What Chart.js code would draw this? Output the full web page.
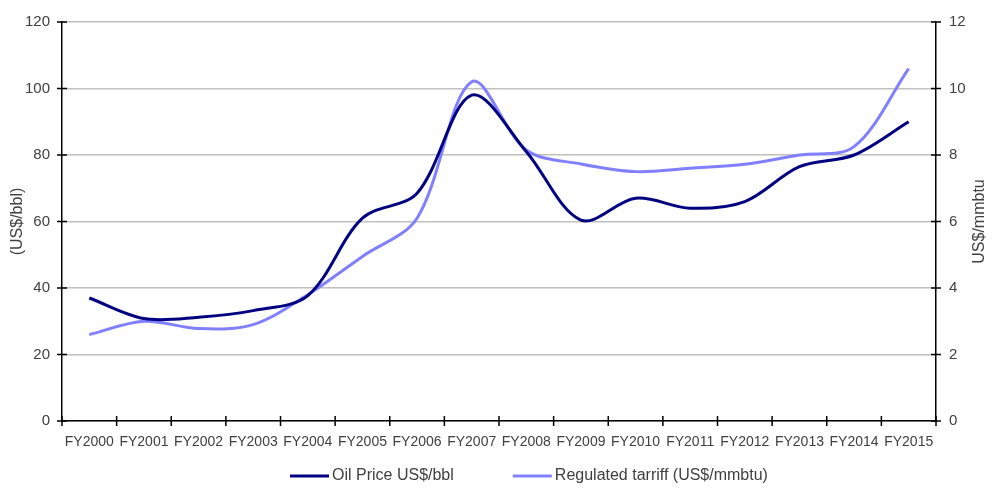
<!DOCTYPE html>
<html>
<head>
<meta charset="utf-8">
<script src="https://cdn.jsdelivr.net/npm/chart.js@4.4.1/dist/chart.umd.min.js"></script>
<style>
  html, body { margin: 0; padding: 0; background: #fff; }
  #wrap { width: 998px; height: 488px; position: relative; }
</style>
</head>
<body>
<div id="wrap"><canvas id="chart"></canvas></div>
<script>
// Fiscal years on the category axis
const years = ['FY2000', 'FY2001', 'FY2002', 'FY2003', 'FY2004', 'FY2005', 'FY2006', 'FY2007',
               'FY2008', 'FY2009', 'FY2010', 'FY2011', 'FY2012', 'FY2013', 'FY2014', 'FY2015'];

// Oil price, US$/bbl (left axis)
const oilPrice = [37, 30.8, 31.2, 33.2, 37.7, 61, 68.5, 98, 81, 60.4, 67, 64, 66, 76.5, 80, 90];

// Regulated gas tariff, US$/mmbtu (right axis)
const tariff = [2.6, 3.0, 2.78, 2.9, 3.8, 4.95, 6.1, 10.2, 8.15, 7.73, 7.5, 7.6, 7.72, 8.0, 8.25, 10.6];

const oilLabel = 'Oil Price US$/bbl';
const tariffLabel = 'Regulated tarriff (US$/mmbtu)';
const rightTitle = 'US$/mmbtu';

const FONT = "'Liberation Sans', Arial, sans-serif";
const TEXT = '#404040';

// tick marks that cross the axis lines (both sides)
const crossTicks = {
    id: 'crossTicks',
    beforeDatasetsDraw(chart) {
        const { ctx, chartArea, scales } = chart;
        const half = 5;
        ctx.save();
        ctx.strokeStyle = '#000';
        ctx.lineWidth = 1.5;
        ctx.beginPath();
        const step = scales.x.width / years.length;
        for (let i = 0; i <= years.length; i++) {
            const px = scales.x.left + i * step;
            ctx.moveTo(px, chartArea.bottom - half);
            ctx.lineTo(px, chartArea.bottom + half);
        }
        scales.y.ticks.forEach(t => {
            const py = scales.y.getPixelForValue(t.value);
            ctx.moveTo(chartArea.left - half, py);
            ctx.lineTo(chartArea.left + half, py);
        });
        scales.y1.ticks.forEach(t => {
            const py = scales.y1.getPixelForValue(t.value);
            ctx.moveTo(chartArea.right - half, py);
            ctx.lineTo(chartArea.right + half, py);
        });
        ctx.stroke();

        // right axis title, reading bottom to top
        ctx.fillStyle = TEXT;
        ctx.font = '16px ' + FONT;
        ctx.textAlign = 'center';
        ctx.textBaseline = 'middle';
        ctx.translate(chart.width - 18, (chartArea.top + chartArea.bottom) / 2);
        ctx.rotate(-Math.PI / 2);
        ctx.fillText(rightTitle, 0, 0);
        ctx.restore();
    }
};

// legend along the bottom edge
const bottomLegend = {
    id: 'bottomLegend',
    afterDraw(chart) {
        const { ctx } = chart;
        const sample = 39, gap = 3, between = 59, y = 476;
        ctx.save();
        ctx.font = '16px ' + FONT;
        let x = 290;
        chart.data.datasets.forEach(ds => {
            ctx.strokeStyle = ds.borderColor;
            ctx.lineWidth = 3;
            ctx.beginPath();
            ctx.moveTo(x, y);
            ctx.lineTo(x + sample, y);
            ctx.stroke();
            ctx.fillStyle = TEXT;
            ctx.textBaseline = 'middle';
            ctx.fillText(ds.label, x + sample + gap, y);
            x += sample + gap + ctx.measureText(ds.label).width + between;
        });
        ctx.restore();
    }
};

const ctx = document.getElementById('chart').getContext('2d');
const myChart = new Chart(ctx, {
    type: 'line',
    data: {
        labels: years,
        datasets: [
            {
                label: oilLabel,
                data: oilPrice,
                yAxisID: 'y',
                borderColor: '#000080',
                borderWidth: 3,
                pointRadius: 0,
                tension: 0.33,
                fill: false
            },
            {
                label: tariffLabel,
                data: tariff,
                yAxisID: 'y1',
                borderColor: '#8080ff',
                borderWidth: 3,
                pointRadius: 0,
                tension: 0.33,
                fill: false
            }
        ]
    },
    options: {
        responsive: true,
        maintainAspectRatio: false,
        animation: false,
        layout: { padding: { top: 14, bottom: 34, left: 0, right: 0 } },
        plugins: {
            legend: { display: false },
            tooltip: { enabled: false }
        },
        scales: {
            x: {
                type: 'category',
                offset: true,
                grid: { display: false, drawTicks: false },
                border: { display: true, color: '#000', width: 1.5 },
                ticks: { color: TEXT, font: { family: FONT, size: 14 }, padding: 13, maxRotation: 0, autoSkip: false },
                afterFit: s => { s.height = 33; }
            },
            y: {
                position: 'left',
                min: 0,
                max: 120,
                grid: { color: '#c0c0c0', lineWidth: 1.5, drawTicks: false },
                border: { display: true, color: '#000', width: 1.5 },
                ticks: { stepSize: 20, color: TEXT, font: { family: FONT, size: 15 }, padding: 12 },
                title: {
                    display: true, text: '(US$/bbl)', color: TEXT,
                    font: { family: FONT, size: 16 }, padding: { top: 8, bottom: 0 }
                },
                afterFit: s => { s.width = 62; }
            },
            y1: {
                position: 'right',
                min: 0,
                max: 12,
                grid: { drawOnChartArea: false, drawTicks: false },
                border: { display: true, color: '#000', width: 1.5 },
                ticks: { stepSize: 2, color: TEXT, font: { family: FONT, size: 15 }, padding: 13 },
                afterFit: s => { s.width = 62; }
            }
        }
    },
    plugins: [crossTicks, bottomLegend]
});
</script>
</body>
</html>
